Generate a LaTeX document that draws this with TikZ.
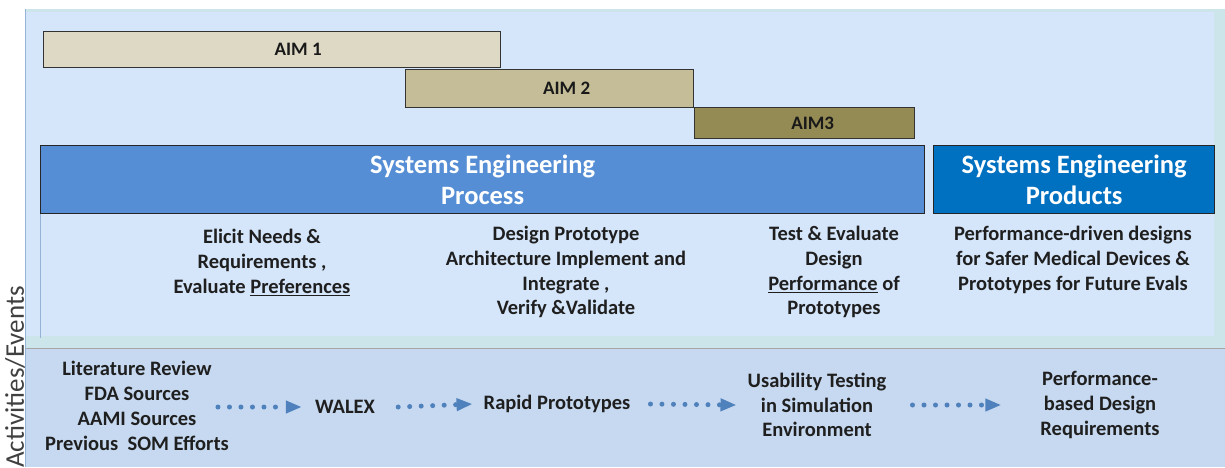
\documentclass[tikz,border=0pt]{standalone}
\usepackage{fontspec}
\setmainfont{Carlito}
\usetikzlibrary{arrows.meta}
\definecolor{panel}{HTML}{D5E6FB}
\definecolor{edgeband}{HTML}{CCE5EA}
\definecolor{lowband}{HTML}{C6D9F0}
\definecolor{aimA}{HTML}{DDD9C4}
\definecolor{aimB}{HTML}{C4BD97}
\definecolor{aimC}{HTML}{948A54}
\definecolor{procblue}{HTML}{558ED5}
\definecolor{prodblue}{HTML}{0070C0}
\definecolor{flowblue}{HTML}{4F81BD}
\definecolor{frameline}{HTML}{95B3D7}
\tikzset{
  aimbar/.style={draw=black!80, line width=1.3pt, inner sep=0pt, anchor=north west,
    font=\fontsize{19}{22}\selectfont\bfseries, text=black!90},
  header/.style={draw=black!85, line width=1.3pt, inner sep=0pt, anchor=north west,
    text=white, align=center, font=\fontsize{26.5}{31}\selectfont\bfseries},
  body/.style={align=center, inner sep=0pt, text=black!88,
    font=\fontsize{20.5}{24.8}\selectfont\bfseries},
  flow/.style={flowblue, line width=5pt, line cap=round, dash pattern=on 0pt off 11.5pt,
    -{Triangle[length=16pt,width=12pt]}},
}
\begin{document}
\begin{tikzpicture}[x=1pt, y=-1pt]
\useasboundingbox (0,0) rectangle (1225,467);
% background panels
\fill[white] (0,0) rectangle (1225,467);
\fill[edgeband] (25,9) rectangle (1225,467);
\fill[panel] (26,12) rectangle (1214,336);
\fill[lowband] (26,348) rectangle (1225,467);
\draw[black!35, line width=0.8pt] (26,348) -- (1225,348);
\draw[frameline, line width=1pt] (25.5,9) -- (25.5,467);
\draw[frameline, line width=1pt] (40,213) -- (40,338);
% timeline bars (labels sit right of centre)
\node[aimbar, fill=aimA, minimum width=457, minimum height=36] (aim1) at (43,31)
  {\hspace*{52pt}AIM 1};
\node[aimbar, fill=aimB, minimum width=288, minimum height=38] (aim2) at (405,69)
  {\hspace*{34pt}AIM 2};
\node[aimbar, fill=aimC, minimum width=220, minimum height=31] (aim3) at (694,107)
  {\hspace*{16pt}AIM3};
% headers
\node[header, fill=procblue, minimum width=884, minimum height=68] (proc) at (40,145)
  {Systems Engineering\\Process};
\node[header, fill=prodblue, minimum width=281, minimum height=68] (prod) at (933,145)
  {Systems Engineering\\Products};
% process steps
\node[body, anchor=north] (elicit) at (262,229)
  {Elicit Needs \&\\Requirements ,\\Evaluate \underline{Preferences}};
\node[body, anchor=north] (design) at (566,226)
  {Design Prototype\\Architecture Implement and\\Integrate ,\\Verify \&Validate};
\node[body, anchor=north] (test) at (834,226)
  {Test \& Evaluate\\Design\\\underline{Performance} of\\Prototypes};
\node[body, anchor=north] (outcome) at (1073,226)
  {Performance-driven designs\\for Safer Medical Devices \&\\Prototypes for Future Evals};
% activities
\node[body] (lit) at (137,406)
  {Literature Review\\FDA Sources\\AAMI Sources\\Previous\ \ SOM Efforts};
\node[body] (walex) at (345,407) {WALEX};
\node[body] (rapid) at (557,404) {Rapid Prototypes};
\node[body] (usab) at (817,405) {Usability Testing\\in Simulation\\Environment};
\node[body] (perf) at (1100,405) {Performance-\\based Design\\Requirements};
\draw[flow] ([xshift=-11pt]lit.east |- walex.west) -- ([xshift=-13pt]walex.west);
\draw[flow] ([xshift=23pt]walex.east) -- ([xshift=-11pt]rapid.west);
\draw[flow] ([xshift=20pt]rapid.east) -- ([xshift=-11pt]usab.west);
\draw[flow] ([xshift=26pt]usab.east) -- ([xshift=-39pt]perf.west);
% side label
\node[rotate=90, inner sep=0pt, text=black!75, font=\fontsize{27}{29}\selectfont]
  (side) at (15,377) {Activities/Events};
\end{tikzpicture}
\end{document}
